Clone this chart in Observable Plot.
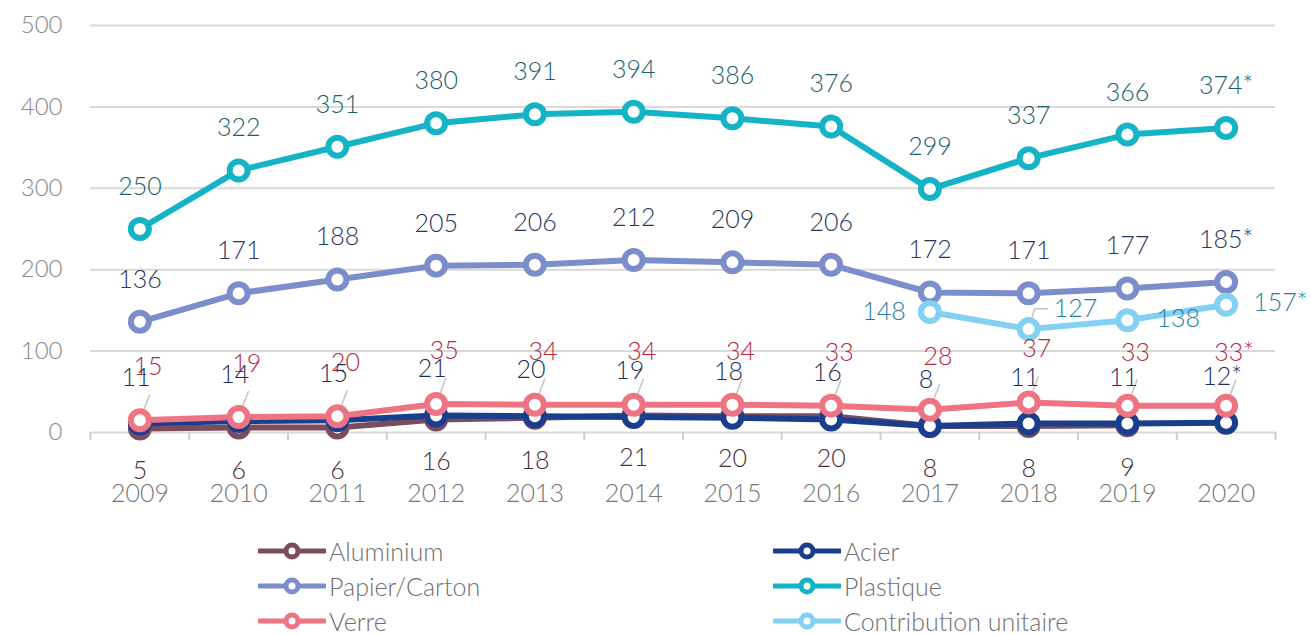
<!DOCTYPE html>
<html>
<head>
<meta charset="utf-8">
<script src="https://cdn.jsdelivr.net/npm/d3@7"></script>
<script src="https://cdn.jsdelivr.net/npm/@observablehq/plot@0.6"></script>
<style>
  html, body { margin: 0; padding: 0; background: #fff; }
  #wrap { position: relative; width: 1311px; height: 635px; font-family: Lato, "Open Sans", sans-serif; font-weight: 300; }
  #legend { position: absolute; left: 0; top: 530px; width: 1311px; height: 105px; }
  .item { position: absolute; display: flex; align-items: center; font-size: 25px; color: #6f6f6f; height: 34px; }
  .item svg { margin-right: 3px; }
</style>
</head>
<body>
<div id="wrap">
  <div id="chart"></div>
  <div id="legend"></div>
</div>
<script>
const years = [2009, 2010, 2011, 2012, 2013, 2014, 2015, 2016, 2017, 2018, 2019, 2020];
const aluminium = [5, 6, 6, 16, 18, 21, 20, 20, 8, 8, 9, null];
const acier = [11, 14, 15, 21, 20, 19, 18, 16, 8, 11, 11, 12];
const papier = [136, 171, 188, 205, 206, 212, 209, 206, 172, 171, 177, 185];
const plastique = [250, 322, 351, 380, 391, 394, 386, 376, 299, 337, 366, 374];
const verre = [15, 19, 20, 35, 34, 34, 34, 33, 28, 37, 33, 33];
const contribution = [null, null, null, null, null, null, null, null, 148, 127, 138, 157];
const yTicks = [0, 100, 200, 300, 400, 500];
const starYear = 2020;

const series = [
  {name: "Aluminium", values: aluminium, color: "#7a4c5c", label: "#4a2b35"},
  {name: "Acier", values: acier, color: "#1a3e8e", label: "#1f2d5a"},
  {name: "Verre", values: verre, color: "#ee7484", label: "#b8283a"},
  {name: "Papier/Carton", values: papier, color: "#7b8ecb", label: "#2a3460"},
  {name: "Contribution unitaire", values: contribution, color: "#82d0f2", label: "#1f7f9f"},
  {name: "Plastique", values: plastique, color: "#14b3c6", label: "#1b5f6a"}
];
const legendOrder = ["Aluminium", "Acier", "Papier/Carton", "Plastique", "Verre", "Contribution unitaire"];

function rows(s) {
  return years.map((y, i) => ({year: y, value: s.values[i], serie: s.name}))
              .filter(d => d.value != null);
}
const fmt = d => d.value + (d.year === starYear ? "*" : "");

const marks = [];
marks.push(Plot.gridY(yTicks, {stroke: "#d9d9d9", strokeOpacity: 1, strokeWidth: 2}));
marks.push(Plot.axisY(yTicks, {label: null, tickSize: 0, tickPadding: 28, fontSize: 24, fill: "#8a8a8a", fontWeight: 300}));
const edges = years.map(y => y - 0.5).concat([years[years.length - 1] + 0.5]);
marks.push(Plot.axisX(edges, {label: null, tickSize: 8, stroke: "#cfcfcf", strokeWidth: 2, tickFormat: () => ""}));
marks.push(Plot.axisX(years, {label: null, tickSize: 0, tickPadding: 52, fontSize: 25, fill: "#767676", fontWeight: 300, tickFormat: d => String(d)}));

for (const s of series) {
  const data = rows(s);
  marks.push(Plot.line(data, {x: "year", y: "value", stroke: s.color, strokeWidth: 6}));
}
// leader lines for Acier labels (into Verre markers) and 127
const verreRows = rows(series[2]);
marks.push(Plot.link(verreRows, {x1: "year", y1: "value", x2: d => d.year + 0.1, y2: d => d.value + 32, stroke: "#c4c4c4", strokeWidth: 1.5}));
const contRows = rows(series[4]).filter(d => d.year === 2018);
marks.push(Plot.link(contRows, {x1: "year", y1: "value", x2: d => d.year + 0.06, y2: d => d.value + 25, stroke: "#c4c4c4", strokeWidth: 1.5}));
marks.push(Plot.link(contRows, {x1: d => d.year + 0.06, y1: d => d.value + 25, x2: d => d.year + 0.2, y2: d => d.value + 25, stroke: "#c4c4c4", strokeWidth: 1.5}));

for (const s of series) {
  const data = rows(s);
  marks.push(Plot.dot(data, {x: "year", y: "value", r: 9, fill: "white", stroke: s.color, strokeWidth: 6}));
}

const textBase = {x: "year", y: "value", text: fmt, fontSize: 25, fontFamily: "Lato", fontWeight: 300};
// Plastique
marks.push(Plot.text(rows(series[5]), {...textBase, fill: series[5].label, dy: -42}));
// Papier
marks.push(Plot.text(rows(series[3]), {...textBase, fill: series[3].label, dy: -42}));
// Contribution
const cont = rows(series[4]);
marks.push(Plot.text(cont.filter(d => d.year === 2017), {...textBase, fill: series[4].label, textAnchor: "end", dx: -24}));
marks.push(Plot.text(cont.filter(d => d.year === 2018), {...textBase, fill: series[4].label, textAnchor: "start", dx: 25, dy: -20}));
marks.push(Plot.text(cont.filter(d => d.year === 2019), {...textBase, fill: series[4].label, textAnchor: "start", dx: 29, dy: -1}));
marks.push(Plot.text(cont.filter(d => d.year === 2020), {...textBase, fill: series[4].label, textAnchor: "start", dx: 27, dy: -2}));
// Verre
marks.push(Plot.text(rows(series[2]), {...textBase, fill: series[2].label, dx: 8, dy: -53}));
// Acier
marks.push(Plot.text(rows(series[1]), {...textBase, fill: series[1].label, dx: -4, dy: -46}));
// Aluminium
marks.push(Plot.text(rows(series[0]), {...textBase, fill: series[0].label, dy: 43}));

const chart = Plot.plot({
  width: 1311,
  height: 530,
  marginLeft: 90,
  marginRight: 36,
  marginTop: 25,
  marginBottom: 98,
  style: {fontFamily: "Lato", background: "white", overflow: "visible"},
  x: {domain: [2008.5, 2020.5], axis: null},
  y: {domain: [0, 500], axis: null},
  marks
});
document.getElementById("chart").appendChild(chart);

// Legend
const legend = document.getElementById("legend");
const colX = [258, 773];
const rowY = [4, 39, 74];
legendOrder.forEach((name, i) => {
  const s = series.find(d => d.name === name);
  const div = document.createElement("div");
  div.className = "item";
  div.style.left = colX[i % 2] + "px";
  div.style.top = rowY[Math.floor(i / 2)] + "px";
  div.innerHTML = `<svg width="68" height="24"><line x1="1" y1="12" x2="67" y2="12" stroke="${s.color}" stroke-width="5" stroke-linecap="round"/><circle cx="34" cy="12" r="6" fill="white" stroke="${s.color}" stroke-width="5"/></svg><span>${name}</span>`;
  legend.appendChild(div);
});
</script>
</body>
</html>
